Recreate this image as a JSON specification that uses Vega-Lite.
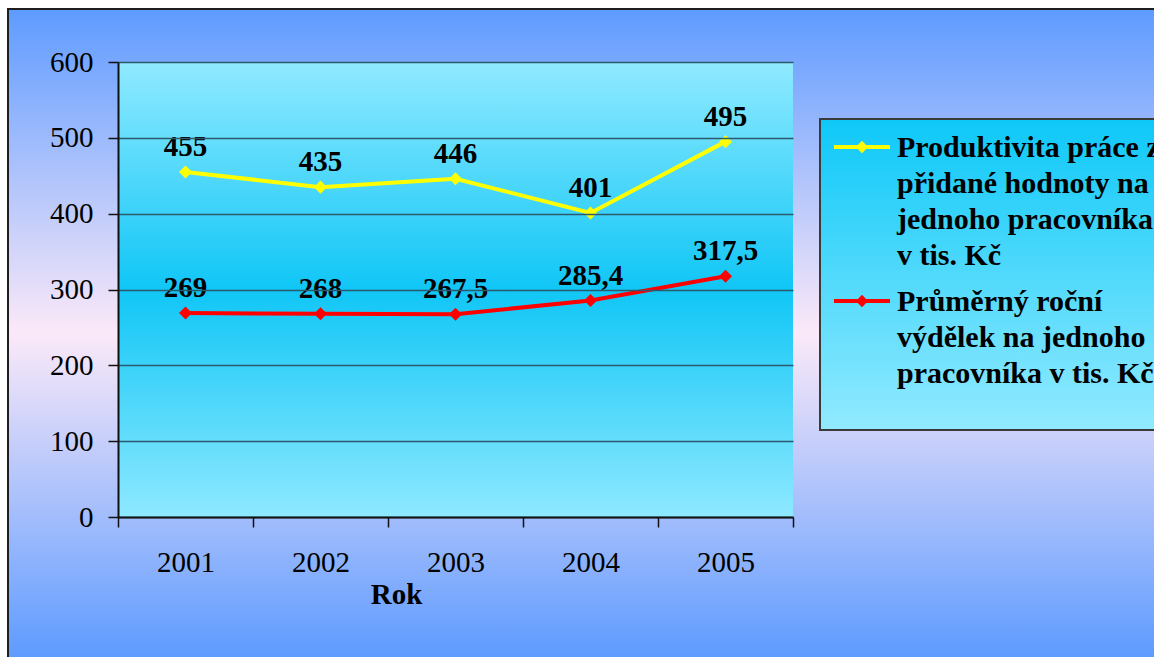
{
  "$schema": "https://vega.github.io/schema/vega-lite/v6.json",
  "width": 1146,
  "height": 648,
  "autosize": {"type": "none"},
  "padding": {"left": 8, "top": 9, "right": 0, "bottom": 0},
  "background": "white",
  "view": {
    "fill": {
      "gradient": "linear", "x1": 0, "y1": 0, "x2": 0, "y2": 1,
      "stops": [
        {"offset": 0, "color": "#5e9bff"},
        {"offset": 0.5, "color": "#fbe9f8"},
        {"offset": 1, "color": "#5e9bff"}
      ]
    },
    "stroke": "#1e1e1e",
    "strokeWidth": 2,
    "strokeDash": [1146, 1794, 648]
  },
  "config": {
    "locale": {
      "number": {"decimal": ",", "thousands": " ", "grouping": [3], "currency": ["", " Kč"]}
    }
  },
  "data": {
    "values": [
      {"rok": "2001", "ukazatel": "Produktivita práce z přidané hodnoty na jednoho pracovníka v tis. Kč", "hodnota": 455},
      {"rok": "2002", "ukazatel": "Produktivita práce z přidané hodnoty na jednoho pracovníka v tis. Kč", "hodnota": 435},
      {"rok": "2003", "ukazatel": "Produktivita práce z přidané hodnoty na jednoho pracovníka v tis. Kč", "hodnota": 446},
      {"rok": "2004", "ukazatel": "Produktivita práce z přidané hodnoty na jednoho pracovníka v tis. Kč", "hodnota": 401},
      {"rok": "2005", "ukazatel": "Produktivita práce z přidané hodnoty na jednoho pracovníka v tis. Kč", "hodnota": 495},
      {"rok": "2001", "ukazatel": "Průměrný roční výdělek na jednoho pracovníka v tis. Kč", "hodnota": 269},
      {"rok": "2002", "ukazatel": "Průměrný roční výdělek na jednoho pracovníka v tis. Kč", "hodnota": 268},
      {"rok": "2003", "ukazatel": "Průměrný roční výdělek na jednoho pracovníka v tis. Kč", "hodnota": 267.5},
      {"rok": "2004", "ukazatel": "Průměrný roční výdělek na jednoho pracovníka v tis. Kč", "hodnota": 285.4},
      {"rok": "2005", "ukazatel": "Průměrný roční výdělek na jednoho pracovníka v tis. Kč", "hodnota": 317.5}
    ]
  },
  "encoding": {
    "x": {
      "field": "rok",
      "type": "ordinal",
      "scale": {"type": "band", "range": [110, 785], "paddingInner": 0, "paddingOuter": 0},
      "axis": {
        "orient": "bottom",
        "offset": -140,
        "title": "Rok",
        "titleFont": "Liberation Serif",
        "titleFontSize": 29,
        "titleFontWeight": "bold",
        "titleColor": "black",
        "titleX": 388,
        "titleY": 77,
        "titleAlign": "center",
        "titleBaseline": "middle",
        "labelFont": "Liberation Serif",
        "labelFontSize": 29,
        "labelColor": "black",
        "labelAngle": 0,
        "labelPadding": 21,
        "tickBand": "extent",
        "tickSize": 10,
        "tickColor": "#111111",
        "tickWidth": 1.5,
        "domainColor": "#111111",
        "domainWidth": 2,
        "grid": false,
        "zindex": 1
      }
    },
    "y": {
      "field": "hodnota",
      "type": "quantitative",
      "scale": {"domain": [0, 600], "range": [508, 53], "nice": false},
      "axis": {
        "orient": "left",
        "offset": -110,
        "values": [0, 100, 200, 300, 400, 500, 600],
        "title": null,
        "labelFont": "Liberation Serif",
        "labelFontSize": 29,
        "labelColor": "black",
        "labelPadding": 15,
        "tickSize": 10,
        "tickColor": "#111111",
        "tickWidth": 1.5,
        "domainColor": "#111111",
        "domainWidth": 2,
        "grid": true,
        "gridColor": "#2c5a6c",
        "gridWidth": 1.5,
        "zindex": 1
      }
    }
  },
  "layer": [
    {
      "transform": [{"filter": {"field": "ukazatel", "equal": "Průměrný roční výdělek na jednoho pracovníka v tis. Kč"}}],
      "mark": {
        "type": "rect",
        "fill": {
          "gradient": "linear", "x1": 0, "y1": 0, "x2": 0, "y2": 1,
          "stops": [
            {"offset": 0, "color": "#90eaff"},
            {"offset": 0.5, "color": "#10c6f6"},
            {"offset": 1, "color": "#8ee9ff"}
          ]
        }
      },
      "encoding": {
        "y": {"datum": 0, "type": "quantitative"},
        "y2": {"datum": 600}
      }
    },
    {
      "mark": {"type": "line", "strokeWidth": 4},
      "encoding": {
        "color": {
          "field": "ukazatel",
          "type": "nominal",
          "scale": {
            "domain": [
              "Produktivita práce z přidané hodnoty na jednoho pracovníka v tis. Kč",
              "Průměrný roční výdělek na jednoho pracovníka v tis. Kč"
            ],
            "range": ["#ffff00", "#ff0000"]
          },
          "legend": {
            "orient": "none",
            "legendX": 812,
            "legendY": 110,
            "title": " ",
            "titleOrient": "bottom",
            "titleFontSize": 22,
            "titlePadding": 8,
            "padding": 12,
            "strokeColor": "#3a3a3a",
            "symbolType": "M-2,0H2M0,-0.24L0.24,0L0,0.24L-0.24,0Z",
            "symbolSize": 784,
            "symbolStrokeWidth": 4,
            "symbolOffset": 14,
            "labelOffset": 19,
            "labelFont": "Liberation Serif",
            "labelFontSize": 30,
            "labelFontWeight": "bold",
            "labelColor": "black",
            "labelLimit": 600,
            "labelBaseline": "top",
            "rowPadding": 14,
            "labelExpr": "datum.value == 'Produktivita práce z přidané hodnoty na jednoho pracovníka v tis. Kč' ? ['Produktivita práce z', 'přidané hodnoty na', 'jednoho pracovníka', 'v tis. Kč'] : ['Průměrný roční', 'výdělek na jednoho', 'pracovníka v tis. Kč']",
            "encode": {
              "legend": {
                "update": {
                  "fill": {"value": {
                    "gradient": "linear", "x1": 0, "y1": 0, "x2": 0, "y2": 1,
                    "stops": [
                      {"offset": 0, "color": "#0ec8f8"},
                      {"offset": 1, "color": "#92eaff"}
                    ]
                  }},
                  "strokeWidth": {"value": 2}
                }
              },
              "labels": {
                "update": {
                  "lineHeight": {"value": 36},
                  "dy": {"value": -14}
                }
              }
            }
          }
        }
      }
    },
    {
      "mark": {"type": "point", "shape": "diamond", "filled": true, "size": 170, "opacity": 1},
      "encoding": {
        "color": {"field": "ukazatel", "type": "nominal", "legend": null}
      }
    },
    {
      "mark": {
        "type": "text",
        "font": "Liberation Serif",
        "fontSize": 29,
        "fontWeight": "bold",
        "color": "black",
        "baseline": "middle",
        "dy": -25
      },
      "encoding": {
        "text": {"field": "hodnota", "type": "quantitative", "format": "~g"}
      }
    }
  ]
}
